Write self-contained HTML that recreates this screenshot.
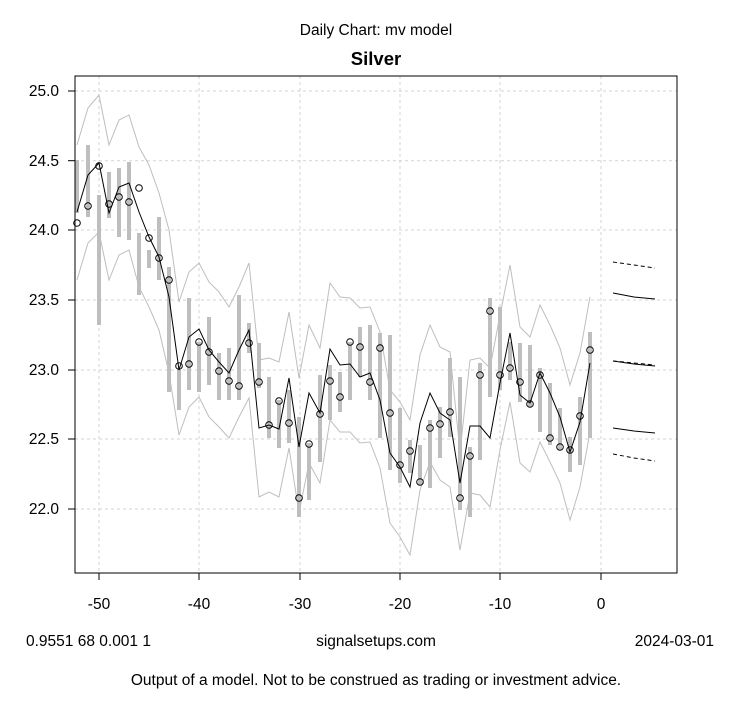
<!DOCTYPE html>
<html><head><meta charset="utf-8"><style>body{margin:0;background:#fff}svg{display:block}</style></head>
<body>
<svg width="753" height="708" xmlns="http://www.w3.org/2000/svg" font-family="Liberation Sans, Arial, sans-serif">
<rect width="753" height="708" fill="#fff"/>
<g stroke="#d3d3d3" stroke-dasharray="3,3" stroke-width="1">
<line x1="99" y1="76" x2="99" y2="573"/><line x1="199" y1="76" x2="199" y2="573"/><line x1="300" y1="76" x2="300" y2="573"/><line x1="400" y1="76" x2="400" y2="573"/><line x1="500" y1="76" x2="500" y2="573"/><line x1="601" y1="76" x2="601" y2="573"/>
<line x1="75" y1="91" x2="677" y2="91"/><line x1="75" y1="160.7" x2="677" y2="160.7"/><line x1="75" y1="230" x2="677" y2="230"/><line x1="75" y1="300" x2="677" y2="300"/><line x1="75" y1="370" x2="677" y2="370"/><line x1="75" y1="439" x2="677" y2="439"/><line x1="75" y1="509" x2="677" y2="509"/>
</g>
<g stroke="#bebebe" stroke-width="4">
<line x1="77" y1="160" x2="77" y2="213"/><line x1="88" y1="145" x2="88" y2="217"/><line x1="99" y1="195" x2="99" y2="325"/><line x1="109" y1="172" x2="109" y2="218"/><line x1="119" y1="168" x2="119" y2="237"/><line x1="129" y1="162" x2="129" y2="240"/><line x1="139" y1="233" x2="139" y2="295"/><line x1="149" y1="250" x2="149" y2="268"/><line x1="159" y1="217" x2="159" y2="280"/><line x1="169" y1="267" x2="169" y2="392"/><line x1="179" y1="370" x2="179" y2="410"/><line x1="189" y1="298" x2="189" y2="390"/><line x1="199" y1="342" x2="199" y2="392"/><line x1="209" y1="317" x2="209" y2="385"/><line x1="219" y1="353" x2="219" y2="400"/><line x1="229" y1="348" x2="229" y2="400"/><line x1="239" y1="295" x2="239" y2="400"/><line x1="249" y1="323" x2="249" y2="353"/><line x1="259" y1="343" x2="259" y2="388"/><line x1="269" y1="377" x2="269" y2="438"/><line x1="279" y1="400" x2="279" y2="448"/><line x1="289" y1="390" x2="289" y2="443"/><line x1="299" y1="417" x2="299" y2="517"/><line x1="309" y1="443" x2="309" y2="500"/><line x1="320" y1="375" x2="320" y2="462"/><line x1="330" y1="365" x2="330" y2="420"/><line x1="340" y1="372" x2="340" y2="412"/><line x1="350" y1="342" x2="350" y2="400"/><line x1="360" y1="327" x2="360" y2="377"/><line x1="370" y1="325" x2="370" y2="400"/><line x1="380" y1="333" x2="380" y2="438"/><line x1="390" y1="335" x2="390" y2="470"/><line x1="400" y1="408" x2="400" y2="483"/><line x1="410" y1="440" x2="410" y2="473"/><line x1="420" y1="445" x2="420" y2="485"/><line x1="430" y1="420" x2="430" y2="488"/><line x1="440" y1="407" x2="440" y2="458"/><line x1="450" y1="358" x2="450" y2="437"/><line x1="460" y1="377" x2="460" y2="510"/><line x1="470" y1="447" x2="470" y2="517"/><line x1="480" y1="363" x2="480" y2="460"/><line x1="490" y1="298" x2="490" y2="397"/><line x1="500" y1="307" x2="500" y2="390"/><line x1="510" y1="342" x2="510" y2="380"/><line x1="520" y1="343" x2="520" y2="402"/><line x1="530" y1="345" x2="530" y2="407"/><line x1="540" y1="368" x2="540" y2="432"/><line x1="550" y1="383" x2="550" y2="445"/><line x1="560" y1="408" x2="560" y2="450"/><line x1="570" y1="437" x2="570" y2="472"/><line x1="580" y1="397" x2="580" y2="465"/><line x1="590" y1="332" x2="590" y2="438"/>
</g>
<g fill="none" stroke="#bebebe" stroke-width="1">
<polyline points="77,145 88,108 99,95 109,145 119,120 129,115 139,147 149,165 159,193 169,230 179,302 189,272 199,263 209,282 219,292 229,307 239,287 249,263 259,360 269,358 279,362 289,312 299,378 309,325 320,348 330,283 340,297 350,298 360,308 370,307 380,332 390,390 400,402 410,420 420,355 430,325 440,347 450,352 460,452 470,360 480,358 490,368 500,315 510,265 520,327 530,337 540,305 550,325 560,348 570,385 580,353 590,297"/>
<polyline points="77,280 88,243 99,232 109,280 119,255 129,250 139,287 149,307 159,330 169,373 179,435 189,407 199,397 209,417 219,427 229,438 239,417 249,398 259,497 269,492 279,497 289,448 299,513 309,463 320,483 330,420 340,432 350,432 360,443 370,442 380,468 390,523 400,537 410,555 420,490 430,462 440,480 450,487 460,550 470,493 480,495 490,507 500,450 510,402 520,463 530,472 540,442 550,462 560,483 570,520 580,487 590,432"/>
</g>
<polyline fill="none" stroke="#000" stroke-width="1" points="77,212 88,175 99,163 109,213 119,187 129,183 139,212 149,237 159,257 169,297 179,370 189,337 199,329 209,350 219,362 229,373 239,350 249,330 259,428 269,425 279,429 289,378 299,447 309,393 320,413 330,349 340,365 350,364 360,377 370,373 380,400 390,453 400,467 410,487 420,423 430,393 440,413 450,420 460,483 470,426 480,426 490,438 500,383 510,333 520,395 530,403 540,373 550,393 560,417 570,452 580,422 590,363"/>
<g fill="none" stroke="#000" stroke-width="1">
<circle cx="77" cy="223" r="3.3"/><circle cx="88" cy="206" r="3.3"/><circle cx="99" cy="166" r="3.3"/><circle cx="109" cy="204" r="3.3"/><circle cx="119" cy="197" r="3.3"/><circle cx="129" cy="202" r="3.3"/><circle cx="139" cy="188" r="3.3"/><circle cx="149" cy="238" r="3.3"/><circle cx="159" cy="258" r="3.3"/><circle cx="169" cy="280" r="3.3"/><circle cx="179" cy="366" r="3.3"/><circle cx="189" cy="364" r="3.3"/><circle cx="199" cy="342" r="3.3"/><circle cx="209" cy="352" r="3.3"/><circle cx="219" cy="371" r="3.3"/><circle cx="229" cy="381" r="3.3"/><circle cx="239" cy="386" r="3.3"/><circle cx="249" cy="343" r="3.3"/><circle cx="259" cy="382" r="3.3"/><circle cx="269" cy="425" r="3.3"/><circle cx="279" cy="401" r="3.3"/><circle cx="289" cy="423" r="3.3"/><circle cx="299" cy="498" r="3.3"/><circle cx="309" cy="444" r="3.3"/><circle cx="320" cy="414" r="3.3"/><circle cx="330" cy="381" r="3.3"/><circle cx="340" cy="397" r="3.3"/><circle cx="350" cy="342" r="3.3"/><circle cx="360" cy="347" r="3.3"/><circle cx="370" cy="382" r="3.3"/><circle cx="380" cy="348" r="3.3"/><circle cx="390" cy="413" r="3.3"/><circle cx="400" cy="465" r="3.3"/><circle cx="410" cy="451" r="3.3"/><circle cx="420" cy="482" r="3.3"/><circle cx="430" cy="428" r="3.3"/><circle cx="440" cy="424" r="3.3"/><circle cx="450" cy="412" r="3.3"/><circle cx="460" cy="498" r="3.3"/><circle cx="470" cy="456" r="3.3"/><circle cx="480" cy="375" r="3.3"/><circle cx="490" cy="311" r="3.3"/><circle cx="500" cy="375" r="3.3"/><circle cx="510" cy="368" r="3.3"/><circle cx="520" cy="382" r="3.3"/><circle cx="530" cy="404" r="3.3"/><circle cx="540" cy="375" r="3.3"/><circle cx="550" cy="438" r="3.3"/><circle cx="560" cy="447" r="3.3"/><circle cx="570" cy="450" r="3.3"/><circle cx="580" cy="416" r="3.3"/><circle cx="590" cy="350" r="3.3"/>
</g>
<g fill="none" stroke="#000" stroke-width="1">
<polyline points="613,262 634,265 655,268" stroke-dasharray="4,3"/>
<polyline points="613,293 634,297 655,299"/>
<polyline points="613,361 634,364 655,366"/>
<polyline points="613,361 634,363 655,365" stroke-dasharray="4,3"/>
<polyline points="613,428 634,431 655,433"/>
<polyline points="613,454 634,458 655,461" stroke-dasharray="4,3"/>
</g>
<rect x="75" y="76" width="602" height="497" fill="none" stroke="#000" stroke-width="1"/>
<g stroke="#000"><line x1="99" y1="573" x2="99" y2="580"/><line x1="199" y1="573" x2="199" y2="580"/><line x1="300" y1="573" x2="300" y2="580"/><line x1="400" y1="573" x2="400" y2="580"/><line x1="500" y1="573" x2="500" y2="580"/><line x1="601" y1="573" x2="601" y2="580"/>
<line x1="68" y1="91" x2="75" y2="91"/><line x1="68" y1="160.7" x2="75" y2="160.7"/><line x1="68" y1="230" x2="75" y2="230"/><line x1="68" y1="300" x2="75" y2="300"/><line x1="68" y1="370" x2="75" y2="370"/><line x1="68" y1="439" x2="75" y2="439"/><line x1="68" y1="509" x2="75" y2="509"/></g>
<g font-size="15.5" fill="#000" text-anchor="middle">
<text x="99" y="609">-50</text><text x="199" y="609">-40</text><text x="300" y="609">-30</text><text x="400" y="609">-20</text><text x="500" y="609">-10</text><text x="601" y="609">0</text>
</g>
<g font-size="15.5" fill="#000" text-anchor="end">
<text x="59" y="96">25.0</text><text x="59" y="166">24.5</text><text x="59" y="235">24.0</text><text x="59" y="305">23.5</text><text x="59" y="375">23.0</text><text x="59" y="444">22.5</text><text x="59" y="514">22.0</text>
</g>
<text x="376" y="35" font-size="15.5" text-anchor="middle">Daily Chart: mv model</text>
<text x="376" y="65" font-size="18.5" font-weight="bold" text-anchor="middle">Silver</text>
<text x="26" y="646" font-size="15.5">0.9551 68 0.001 1</text>
<text x="376" y="646" font-size="15.5" text-anchor="middle">signalsetups.com</text>
<text x="714" y="646" font-size="15.5" text-anchor="end">2024-03-01</text>
<text x="376" y="685" font-size="15.5" text-anchor="middle">Output of a model.  Not to be construed as trading or investment advice.</text>
</svg>
</body></html>
